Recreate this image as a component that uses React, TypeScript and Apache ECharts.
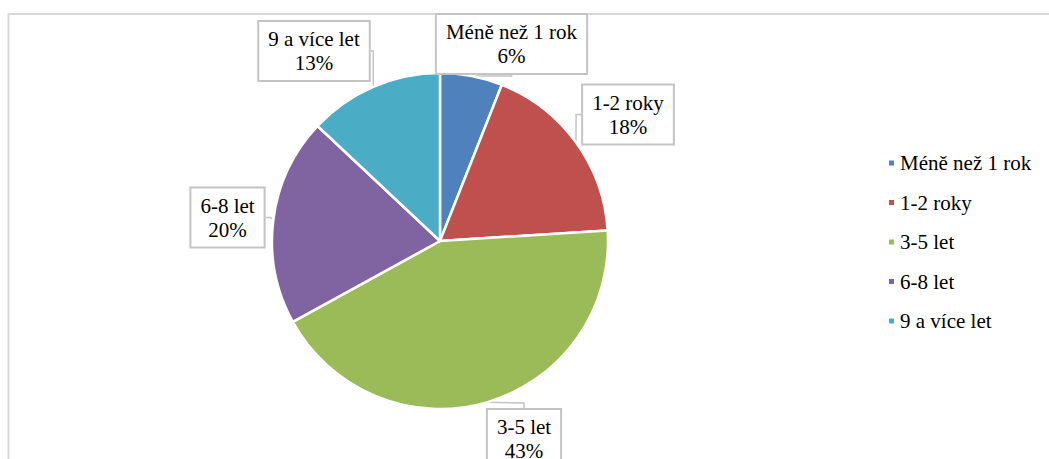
import React, { useEffect, useRef } from "react";
import * as echarts from "echarts";

const categories = ["Méně než 1 rok", "1-2 roky", "3-5 let", "6-8 let", "9 a více let"];
const values = [6, 18, 43, 20, 13];
const colors = ["#4F81BD", "#C0504D", "#9BBB59", "#8064A2", "#4BACC6"];
// label box centres (pixels)
const labelCentres: [number, number][] = [
  [511.5, 44],
  [628, 114.5],
  [524, 439],
  [227.5, 217.5],
  [314, 51],
];

const FONT = "Liberation Serif";

export default function App() {
  const ref = useRef<HTMLDivElement>(null);
  useEffect(() => {
    if (!ref.current) return;
    const chart = echarts.init(ref.current, undefined, { renderer: "svg" });
    chart.setOption({
      animation: false,
      backgroundColor: "#ffffff",
      color: colors,
      textStyle: { fontFamily: FONT },
      graphic: [
        {
          type: "rect",
          shape: { x: 8.5, y: 14, width: 1200, height: 600 },
          style: { fill: "none", stroke: "#d9d9d9", lineWidth: 2 },
          silent: true,
          z: -10,
        },
      ],
      legend: {
        orient: "vertical",
        left: 882,
        top: 146,
        itemWidth: 7,
        itemHeight: 7,
        itemGap: 15.5,
        icon: "rect",
        textStyle: { fontFamily: FONT, fontSize: 21, lineHeight: 24, color: "#000" },
        data: categories,
      },
      series: [
        {
          type: "pie",
          center: [440, 241],
          radius: 168,
          startAngle: 90,
          clockwise: true,
          itemStyle: { borderColor: "#ffffff", borderWidth: 2.5 },
          label: {
            show: true,
            position: "outside",
            formatter: "{b}\n{d}%",
            fontFamily: FONT,
            fontSize: 21,
            lineHeight: 24,
            color: "#000",
            backgroundColor: "#ffffff",
            borderColor: "#c4c4c4",
            borderWidth: 2,
            padding: [5, 9, 5, 9],
            align: "center",
          },
          labelLine: {
            show: true,
            length: 5,
            length2: 5,
            lineStyle: { color: "#c4c4c4", width: 1.5 },
          },
          labelLayout: (params: any) => {
            const c = labelCentres[params.dataIndex];
            return { x: c[0], y: c[1], align: "center", verticalAlign: "middle" };
          },
          emphasis: { disabled: true },
          data: categories.map((name, i) => ({ name, value: values[i] })),
        },
      ],
    });
    return () => chart.dispose();
  }, []);
  return (
    <div
      ref={ref}
      style={{ position: "fixed", left: 0, top: 0, width: 1049, height: 459, background: "#fff" }}
    />
  );
}
